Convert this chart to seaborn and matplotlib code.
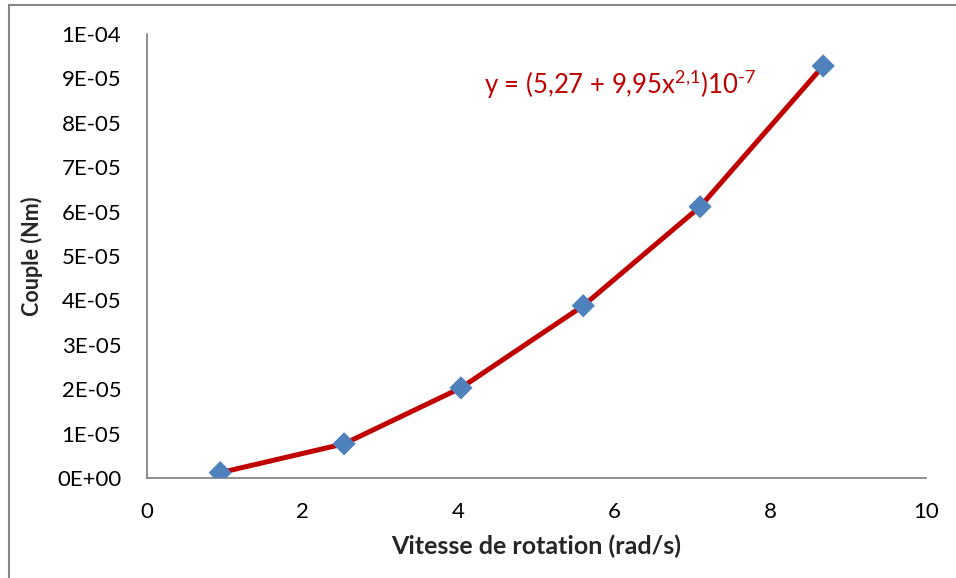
import matplotlib
matplotlib.use("Agg")
import matplotlib.pyplot as plt
import matplotlib.ticker as mticker
from matplotlib.patches import Rectangle
import seaborn as sns
import pandas as pd

# data
vitesse = [0.94, 2.53, 4.03, 5.60, 7.10, 8.68]
couple = [1.2e-6, 7.7e-6, 2.03e-5, 3.88e-5, 6.11e-5, 9.28e-5]
equation = r"y = (5,27 + 9,95x$^{2{,}1}$)10$^{\text{-}7}$"
x_label = "Vitesse de rotation (rad/s)"
y_label = "Couple (Nm)"

df = pd.DataFrame({"vitesse": vitesse, "couple": couple})

sns.set_style("white")
plt.rcParams["font.family"] = ["Lato", "DejaVu Sans"]
plt.rcParams["mathtext.fontset"] = "custom"
plt.rcParams["mathtext.rm"] = "Lato"
plt.rcParams["mathtext.it"] = "Lato"

grey = "#868686"
fig = plt.figure(figsize=(9.56, 5.78), dpi=100)
ax = fig.add_axes([147 / 956, 1 - 478 / 578, (926 - 147) / 956, (478 - 34) / 578])

# outer chart frame
fig.patches.append(Rectangle((9 / 956, -0.05), 1.1, 1 - 5 / 578 + 0.05,
                             transform=fig.transFigure, fill=False,
                             edgecolor=grey, linewidth=1.5))

sns.lineplot(data=df, x="vitesse", y="couple", ax=ax, color="#C00000",
             linewidth=3.6, zorder=2)
sns.scatterplot(data=df, x="vitesse", y="couple", ax=ax, marker="D",
                s=140, color="#4F81BD", edgecolor="none", zorder=3)

ax.set_xlim(0, 10)
ax.set_ylim(0, 1e-4)
ax.set_xticks(range(0, 11, 2))
ax.set_yticks([i * 1e-5 for i in range(11)])
ax.yaxis.set_major_formatter(mticker.FuncFormatter(lambda v, p: f"{v:.0E}"))

for side in ["top", "right"]:
    ax.spines[side].set_visible(False)
for side in ["left", "bottom"]:
    ax.spines[side].set_color(grey)
    ax.spines[side].set_linewidth(1.3)

ax.tick_params(axis="both", which="major", direction="out", length=6.5,
               width=1.3, color=grey, labelsize=16, labelcolor="black", pad=12)
ax.tick_params(axis="x", pad=11)

ax.set_xlabel(x_label, fontsize=18, fontweight="bold", labelpad=9)
ax.set_ylabel(y_label, fontsize=15.5, fontweight="bold", labelpad=10)

ax.text(0.433, 0.885, equation, transform=ax.transAxes, color="#C00000",
        fontsize=18.5, ha="left", va="center")

fig.savefig("out.png", dpi=100)
